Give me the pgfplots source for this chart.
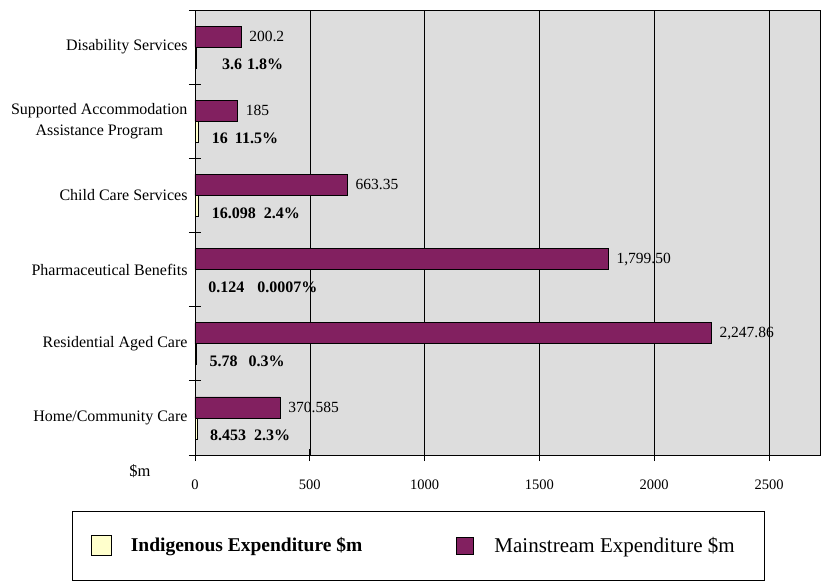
\documentclass[border=0pt]{standalone}
\usepackage{pgfplots}
\pgfplotsset{compat=1.18}
\usepackage{fontspec}
\setmainfont{Liberation Serif}
\definecolor{mainc}{RGB}{130,32,96}
\definecolor{indc}{RGB}{255,255,204}
\definecolor{bgc}{RGB}{221,221,221}
\begin{document}
\begin{tikzpicture}
\useasboundingbox (-195bp,-129bp) rectangle (626bp,455bp);
\begin{axis}[
  scale only axis, width=625bp, height=445bp,
  clip=false,
  xbar, xmin=0, xmax=2722, ymin=-0.5, ymax=5.5,
  axis background/.style={fill=bgc},
  axis line style={black, line width=0.8bp},
  xtick pos=bottom, ytick pos=left,
  xtick={0,500,1000,1500,2000,2500},
  xmajorgrids, grid style={black, line width=0.6bp},
  /pgf/number format/assume math mode=true,
  /pgf/number format/1000 sep={},
  xticklabel style={font=\fontsize{14.5bp}{16bp}\selectfont, yshift=-15bp},
  ytick={-0.5,0.5,1.5,2.5,3.5,4.5,5.5}, yticklabels={},
  extra y ticks={0,1,2,3,4,5},
  extra y tick labels={Home/Community Care, Residential Aged Care, Pharmaceutical Benefits, Child Care Services, {Supported Accommodation\\Assistance Program}, Disability Services},
  extra y tick style={major tick length=0pt, yticklabel style={align=center, font=\fontsize{16bp}{21bp}\selectfont, xshift=-4bp}},
  tick align=center, major tick length=12bp, tick style={black, line width=0.8bp},
  legend columns=2,
  legend style={at={(0,0)}, anchor=north west, xshift=-123bp, yshift=-56bp, draw=black, line width=0.6bp, inner xsep=0pt, inner ysep=24bp, column sep=0pt, nodes={inner sep=0pt}, font=\fontsize{21bp}{22bp}\selectfont},
  legend cell align=left,
]
\addplot[fill=indc, draw=black, line width=0.6bp, bar width=21bp, bar shift=-10.5bp,
  point meta=explicit symbolic, nodes near coords,
  nodes near coords style={anchor=west, font=\fontsize{16bp}{18bp}\selectfont\bfseries, inner sep=0pt, xshift=13bp, yshift=-7bp},
  legend image code/.code={\path (0bp,0bp); \draw[fill=indc, draw=black, line width=0.6bp] (19bp,-10bp) rectangle (39bp,10bp);}]
  coordinates {(8.453,0) [{8.453\hspace*{8bp}2.3\%}] (5.78,1) [{5.78\hspace*{11bp}0.3\%}] (0.124,2) [{0.124\hspace*{13bp}0.0007\%}] (16.098,3) [{16.098\hspace*{8bp}2.4\%}] (16,4) [{16\hspace*{7bp}11.5\%}] (3.6,5) [{\hspace*{13bp}3.6\hspace*{5bp}1.8\%}]};
\addplot[fill=mainc, draw=black, line width=0.8bp, bar width=21bp, bar shift=10.5bp,
  point meta=explicit symbolic, nodes near coords,
  nodes near coords style={anchor=west, font=\fontsize{15.5bp}{17bp}\selectfont, inner sep=0pt, xshift=8bp},
  legend image code/.code={\draw[fill=mainc, draw=black, line width=0.6bp] (0bp,-8.5bp) rectangle (17bp,8.5bp);}]
  coordinates {(370.585,0) [{370.585}] (2247.86,1) [{2,247.86}] (1799.50,2) [{1,799.50}] (663.35,3) [{663.35}] (185,4) [{185}] (200.2,5) [{200.2}]};
\legend{{\makebox[344bp][l]{\hspace*{19bp}\fontsize{19.5bp}{22bp}\selectfont\textbf{Indigenous Expenditure \$m}}}, {\makebox[291bp][l]{\hspace*{21bp}Mainstream Expenditure \$m}}}
\node[font=\fontsize{16.5bp}{18bp}\selectfont] at (rel axis cs:0,0) [xshift=-55bp, yshift=-16bp] {\$m};
\end{axis}
\end{tikzpicture}
\end{document}
